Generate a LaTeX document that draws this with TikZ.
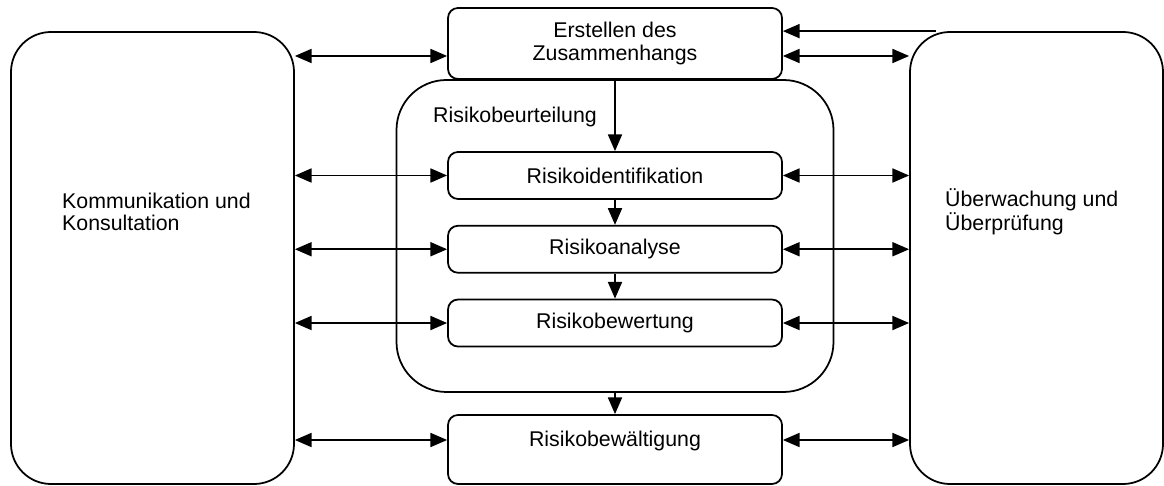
\documentclass[tikz,border=0pt]{standalone}
\usepackage{fontspec}
\setmainfont{Liberation Sans}
\usetikzlibrary{arrows.meta,positioning}

\begin{document}
\begin{tikzpicture}[
  font=\fontsize{18.2}{18.8}\selectfont,
  side/.style={draw, line width=1.5pt, rounded corners=1.2cm, minimum width=8.49cm, minimum height=13.56cm},
  frame/.style={draw, line width=1.5pt, rounded corners=1.5cm, minimum width=13.11cm, minimum height=9.36cm},
  stage/.style={draw, line width=1.5pt, rounded corners=0.3cm, minimum width=10.02cm, minimum height=1.41cm},
  flow/.style={draw, line width=1.5pt, -{Triangle[length=0.5cm,width=0.42cm]}},
  link/.style={draw, line width=1.5pt, {Triangle[length=0.5cm,width=0.42cm]}-{Triangle[length=0.5cm,width=0.42cm]}}
]
\useasboundingbox (0,0) rectangle (34.92,14.58);

% outer columns
\node[side] (komm) at (4.575,6.84) {};
\node[side, minimum width=7.59cm] (ueber) at (31.095,6.84) {};
\node[align=left, anchor=west, inner sep=0] (kommtext) at (1.86,8.22) {Kommunikation und\\Konsultation};
\node[align=left, anchor=west, inner sep=0] (uebertext) at (28.35,8.22) {Überwachung und\\Überprüfung};

% assessment frame
\node[frame] (beurt) at (18.45,7.5) {};
\node[anchor=west, inner sep=0] (beurttext) at (12.99,11.07) {Risikobeurteilung};

% process steps
\node[stage, minimum height=2.13cm, align=center] (erst) at (18.45,13.275) {Erstellen des\\Zusammenhangs};
\node[stage] (ident) at (18.45,9.315) {Risikoidentifikation};
\node[stage, below=0.75cm of ident] (anal) {Risikoanalyse};
\node[stage, below=0.75cm of anal] (bewert) {Risikobewertung};
\node[stage, minimum height=2.07cm, text depth=0.66cm] (bewael) at (18.45,1.095) {Risikobewältigung};

\coordinate (erstlvl) at (18.45,12.9);
\coordinate (bewaellvl) at (18.45,1.38);

% connectors
\draw[flow] ([xshift=0.8cm]ueber.north west) -- (erst.east |- ueber.north);
\draw[link] (komm.east |- erstlvl) -- (erst.west |- erstlvl);
\draw[link] (erst.east |- erstlvl) -- (ueber.west |- erstlvl);
\foreach \stg in {ident,anal,bewert} {
  \draw[link] (komm.east |- \stg) -- (\stg.west);
  \draw[link] (\stg.east) -- (ueber.west |- \stg);
}
\draw[link] (komm.east |- bewaellvl) -- (bewael.west |- bewaellvl);
\draw[link] (bewael.east |- bewaellvl) -- (ueber.west |- bewaellvl);

\draw[flow] (erst) -- (ident);
\draw[flow] (ident) -- (anal);
\draw[flow] (anal) -- (bewert);
\draw[flow] (beurt.south) -- (bewael);
\end{tikzpicture}
\end{document}
